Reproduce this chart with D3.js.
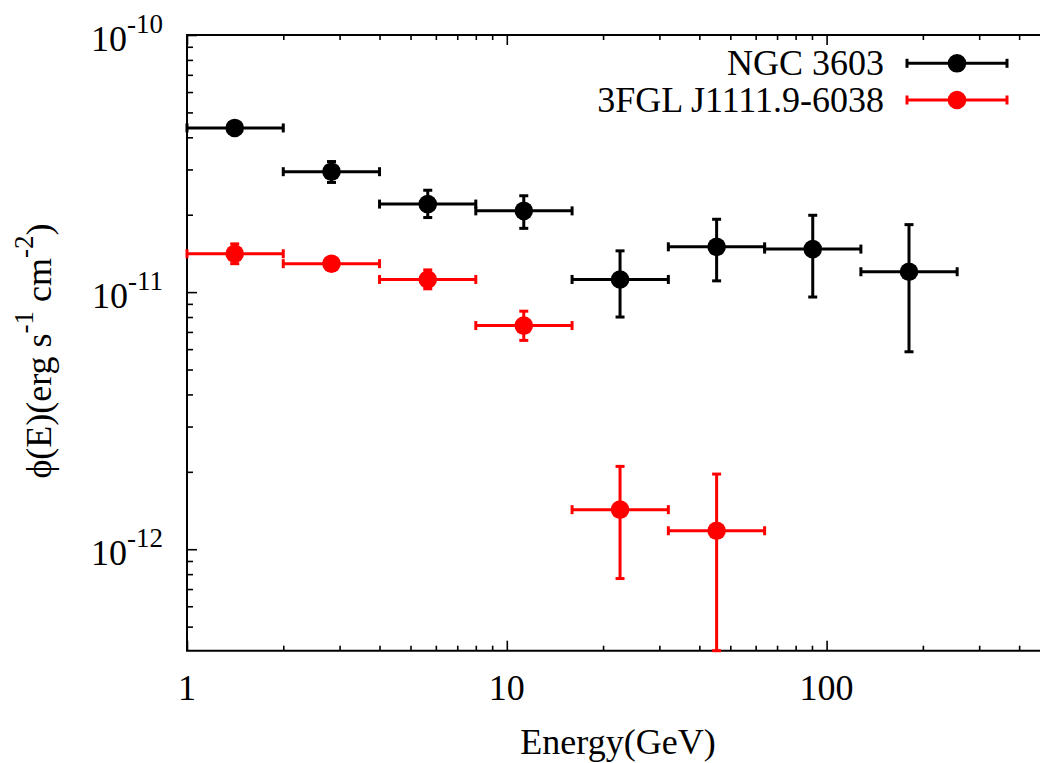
<!DOCTYPE html>
<html>
<head>
<meta charset="utf-8">
<script src="https://cdn.jsdelivr.net/npm/d3@7/dist/d3.min.js"></script>
<style>
  html, body { margin: 0; padding: 0; background: #fff; }
  svg { display: block; }
</style>
</head>
<body>
<svg id="chart" width="1040" height="763"></svg>
<script>
// ---- data ----
const binLo     = [1, 2, 4, 8, 16, 32, 64, 128];
const binHi     = [2, 4, 8, 16, 32, 64, 128, 256];
const binCenter = [1.41, 2.83, 5.66, 11.3, 22.6, 45.3, 90.5, 181];

const ngcFlux = [4.35e-11, 2.94e-11, 2.20e-11, 2.07e-11, 1.12e-11, 1.50e-11, 1.47e-11, 1.20e-11];
const ngcHi   = [4.50e-11, 3.22e-11, 2.49e-11, 2.37e-11, 1.447e-11, 1.92e-11, 1.99e-11, 1.83e-11];
const ngcLo   = [4.20e-11, 2.67e-11, 1.95e-11, 1.77e-11, 8.00e-12, 1.106e-11, 9.57e-12, 5.86e-12];

const fglFlux = [1.41e-11, 1.29e-11, 1.12e-11, 7.41e-12, 1.425e-12, 1.18e-12];
const fglHi   = [1.54e-11, 1.36e-11, 1.22e-11, 8.43e-12, 2.10e-12, 1.96e-12];
const fglLo   = [1.29e-11, 1.22e-11, 1.03e-11, 6.49e-12, 7.69e-13, 0];

const seriesNames  = ["NGC 3603", "3FGL J1111.9-6038"];
const seriesColors = ["#000000", "#ff0000"];

const xMajorTicks = [1, 10, 100];
const xTickLabels = ["1", "10", "100"];
const yMajorTicks = [1e-12, 1e-11, 1e-10];
const yTickExp    = ["-12", "-11", "-10"];

// ---- layout ----
const FONT = "'Liberation Serif', 'Times New Roman', Times, 'Nimbus Roman', 'Nimbus Roman No9 L', 'DejaVu Serif', 'Noto Serif', FreeSerif, serif";
const svg = d3.select("#chart").style("font-family", FONT);
const pLeft = 187, pTop = 35, pBottom = 650.7, decade = 319.8;
const xMax = 600, yMin = 4.03e-13, yMax = 1e-10;

const x = d3.scaleLog().domain([1, xMax]).range([pLeft, pLeft + Math.log10(xMax) * decade]);
const y = d3.scaleLog().domain([yMin, yMax]).range([pBottom, pTop]);

const xMinor = [];
[1, 10, 100].forEach(d => { for (let k = 2; k <= 9; k++) if (k * d <= xMax) xMinor.push(k * d); });
const yMinor = [];
[1e-13, 1e-12, 1e-11].forEach(d => { for (let k = 2; k <= 9; k++) { const v = k * d; if (v >= yMin && v <= yMax) yMinor.push(v); } });

function styleAxis(g) {
  g.select(".domain").remove();
  g.selectAll(".tick line").attr("stroke", "#000").attr("stroke-width", 1.6);
  g.selectAll(".tick text").remove();
}

// bottom axis ticks (inward)
svg.append("g").attr("transform", `translate(0,${pBottom})`)
  .call(d3.axisBottom(x).tickValues(xMinor).tickSize(-5).tickFormat("")).call(styleAxis);
svg.append("g").attr("transform", `translate(0,${pBottom})`)
  .call(d3.axisBottom(x).tickValues(xMajorTicks).tickSize(-10).tickFormat("")).call(styleAxis);
// top axis ticks (mirror)
svg.append("g").attr("transform", `translate(0,${pTop})`)
  .call(d3.axisTop(x).tickValues(xMinor).tickSize(-5).tickFormat("")).call(styleAxis);
svg.append("g").attr("transform", `translate(0,${pTop})`)
  .call(d3.axisTop(x).tickValues(xMajorTicks).tickSize(-10).tickFormat("")).call(styleAxis);
// left axis ticks
svg.append("g").attr("transform", `translate(${pLeft},0)`)
  .call(d3.axisLeft(y).tickValues(yMinor).tickSize(-6).tickFormat("")).call(styleAxis);
svg.append("g").attr("transform", `translate(${pLeft},0)`)
  .call(d3.axisLeft(y).tickValues(yMajorTicks).tickSize(-10).tickFormat("")).call(styleAxis);

// borders
const xr = x.range()[1];
svg.append("path").attr("d", `M${xr},${pTop}H${pLeft}V${pBottom}H${xr}`)
  .attr("fill", "none").attr("stroke", "#000").attr("stroke-width", 2);

const labels = svg.append("g").style("font-family", FONT).attr("fill", "#000");

// x tick labels
labels.append("g").selectAll("text").data(xMajorTicks).join("text")
  .style("font-family", FONT)
  .attr("x", d => x(d)).attr("y", 700).attr("text-anchor", "middle")
  .attr("font-size", 36).text((d, i) => xTickLabels[i]);

// y tick labels
const yl = labels.append("g").selectAll("text").data(yMajorTicks).join("text")
  .style("font-family", FONT)
  .attr("x", 163).attr("y", d => y(d) + 16).attr("text-anchor", "end").attr("font-size", 36);
yl.append("tspan").text("10");
yl.append("tspan").attr("font-size", 27).attr("dy", -18).text((d, i) => yTickExp[i]);

// axis titles
labels.append("text").style("font-family", FONT).attr("x", 618).attr("y", 754).attr("text-anchor", "middle")
  .attr("font-size", 36).text("Energy(GeV)");

const yt = labels.append("text").style("font-family", FONT).attr("transform", "translate(51,351) rotate(-90)")
  .attr("text-anchor", "middle").attr("font-size", 36);
yt.append("tspan").text("\u03D5(E)(erg s");
yt.append("tspan").attr("font-size", 27).attr("dy", -18).text("-1");
yt.append("tspan").attr("dy", 18).text(" cm");
yt.append("tspan").attr("font-size", 27).attr("dy", -18).text("-2");
yt.append("tspan").attr("dy", 18).text(")");

// data
const cap = 4.5, r = 9.3, sw = 3;
function drawSeries(flux, lo, hi, color) {
  const g = svg.append("g").attr("stroke", color).attr("stroke-width", sw).attr("fill", color);
  flux.forEach((v, i) => {
    const cy = y(v), cx = x(binCenter[i]);
    const x0 = x(binLo[i]), x1 = x(binHi[i]);
    const yTop = y(Math.min(hi[i], yMax));
    const yBot = y(Math.max(lo[i], yMin));
    g.append("line").attr("x1", x0).attr("x2", x1).attr("y1", cy).attr("y2", cy);
    g.append("line").attr("x1", x0).attr("x2", x0).attr("y1", cy - cap).attr("y2", cy + cap);
    g.append("line").attr("x1", x1).attr("x2", x1).attr("y1", cy - cap).attr("y2", cy + cap);
    g.append("line").attr("x1", cx).attr("x2", cx).attr("y1", yTop).attr("y2", yBot);
    g.append("line").attr("x1", cx - cap).attr("x2", cx + cap).attr("y1", yTop).attr("y2", yTop);
    g.append("line").attr("x1", cx - cap).attr("x2", cx + cap).attr("y1", yBot).attr("y2", yBot);
    g.append("circle").attr("cx", cx).attr("cy", cy).attr("r", r).attr("stroke", "none");
  });
}
drawSeries(ngcFlux, ngcLo, ngcHi, seriesColors[0]);
drawSeries(fglFlux, fglLo, fglHi, seriesColors[1]);

// legend
const legRows = [63.3, 100];
seriesNames.forEach((name, i) => {
  const ly = legRows[i];
  labels.append("text").style("font-family", FONT).attr("x", 884).attr("y", ly + 12).attr("text-anchor", "end")
    .attr("font-size", 36).text(name);
  const g = svg.append("g").attr("stroke", seriesColors[i]).attr("stroke-width", sw).attr("fill", seriesColors[i]);
  g.append("line").attr("x1", 907).attr("x2", 1007).attr("y1", ly).attr("y2", ly);
  g.append("line").attr("x1", 907).attr("x2", 907).attr("y1", ly - cap).attr("y2", ly + cap);
  g.append("line").attr("x1", 1007).attr("x2", 1007).attr("y1", ly - cap).attr("y2", ly + cap);
  g.append("circle").attr("cx", 957).attr("cy", ly).attr("r", r).attr("stroke", "none");
});
</script>
</body>
</html>
